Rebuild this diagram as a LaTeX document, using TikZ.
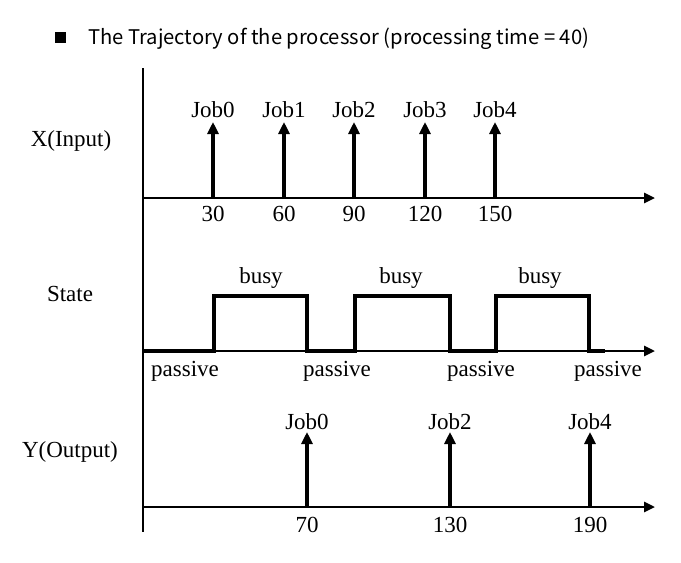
\documentclass[tikz,border=0pt]{standalone}
\usepackage{fontspec}
\setmainfont{Liberation Serif}
\newfontfamily\titlefont{Noto Sans CJK KR}
\usetikzlibrary{arrows.meta}
\begin{document}
\begin{tikzpicture}[x=1pt,y=-1pt,
  lbl/.style={font=\fontsize{23}{25}\selectfont, inner sep=0pt, anchor=base},
  axisline/.style={line width=2.6pt, -{Triangle[length=11pt,width=10pt]}},
  vaxis/.style={line width=2.6pt},
  jobarrow/.style={line width=3.6pt, -{Triangle[length=12pt,width=11pt]}},
  trace/.style={line width=3.6pt, line join=miter}]
\useasboundingbox (0,0) rectangle (681,563);
% title
\fill (55,32) rectangle (66,43);
\node[anchor=base west, inner sep=0pt, font=\titlefont\fontsize{20.2}{24}\selectfont] (title) at (88,44) {The Trajectory of the processor (processing time = 40)};
% left labels
\node[lbl] (xin) at (71,146) {X(Input)};
\node[lbl] (st) at (70,301) {State};
\node[lbl] (yout) at (70,457) {Y(Output)};
% axes
\coordinate (vtop) at (143,68);
\coordinate (vbot) at (143,532);
\draw[vaxis] (vtop) -- (vbot);
\coordinate (xa0) at (143,198);
\coordinate (xa1) at (655,198);
\coordinate (sa0) at (143,351);
\coordinate (sa1) at (655,351);
\coordinate (ya0) at (143,507);
\coordinate (ya1) at (655,507);
\draw[axisline] (xa0) -- (xa1);
\draw[axisline] (sa0) -- (sa1);
\draw[axisline] (ya0) -- (ya1);
% input arrows
\foreach \t/\px/\j in {30/213/0,60/284/1,90/354/2,120/425/3,150/495/4}{
  \coordinate (xb\j) at (\px,198);
  \coordinate (xt\j) at (\px,122);
  \draw[jobarrow] (xb\j) -- (xt\j);
  \node[lbl] (xj\j) at (\px,117) {Job\j};
  \node[lbl] (xn\j) at (\px,221) {\t};
}
% state trace
\draw[trace] (sa0) -- (214,351) -- (214,296) -- (307,296) -- (307,351)
  -- (355,351) -- (355,296) -- (450,296) -- (450,351)
  -- (496,351) -- (496,296) -- (589,296) -- (589,351) -- (605,351);
\node[lbl] (b1) at (261,283) {busy};
\node[lbl] (b2) at (401,283) {busy};
\node[lbl] (b3) at (540,283) {busy};
\node[lbl] (p1) at (185,376) {passive};
\node[lbl] (p2) at (337,376) {passive};
\node[lbl] (p3) at (481,376) {passive};
\node[lbl] (p4) at (608,376) {passive};
% output arrows
\foreach \t/\px/\j in {70/307/0,130/450/2,190/590/4}{
  \coordinate (yb\j) at (\px,507);
  \coordinate (yt\j) at (\px,432);
  \draw[jobarrow] (yb\j) -- (yt\j);
  \node[lbl] (yj\j) at (\px,429) {Job\j};
  \node[lbl] (yn\j) at (\px,532) {\t};
}
\end{tikzpicture}
\end{document}
